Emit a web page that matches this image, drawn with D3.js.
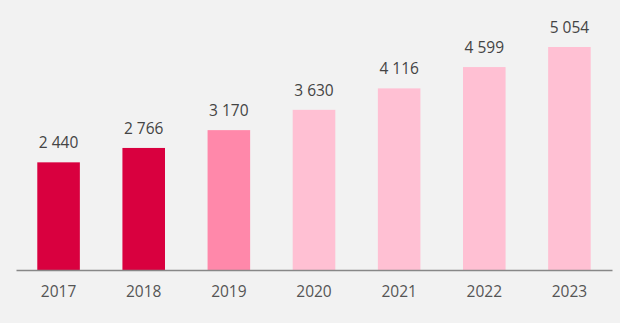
<!DOCTYPE html>
<html><head><meta charset="utf-8">
<script src="https://cdn.jsdelivr.net/npm/d3@7"></script>
<style>html,body{margin:0;padding:0;background:#f2f2f2;}</style>
</head><body>
<svg id="c" width="620" height="323"></svg>
<script>
const years = ["2017","2018","2019","2020","2021","2022","2023"];
const values = [2440, 2766, 3170, 3630, 4116, 4599, 5054];
const labels = ["2 440","2 766","3 170","3 630","4 116","4 599","5 054"];
const colors = ["#d9003f","#d9003f","#ff88aa","#ffc0d3","#ffc0d3","#ffc0d3","#ffc0d3"];

const svg = d3.select("#c");
svg.append("rect").attr("width",620).attr("height",323).attr("fill","#f2f2f2");
const x = d3.scaleBand().domain(years).range([16,612]).paddingInner(0.5).paddingOuter(0.25);
const y = d3.scaleLinear().domain([0,5054]).range([270,47]);

svg.selectAll("rect.bar").data(years).enter().append("rect").attr("class","bar")
  .attr("x",d=>x(d)).attr("width",x.bandwidth())
  .attr("y",(d,i)=>y(values[i])).attr("height",(d,i)=>270-y(values[i]))
  .attr("fill",(d,i)=>colors[i]);

svg.selectAll("text.val").data(years).enter().append("text").attr("class","val")
  .attr("x",d=>x(d)+x.bandwidth()/2).attr("y",(d,i)=>y(values[i])-14)
  .attr("text-anchor","middle").attr("font-family","Open Sans").attr("font-size",15.5)
  .attr("fill","#444").text((d,i)=>labels[i]);

const ax = svg.append("g").attr("transform","translate(0,270)")
  .call(d3.axisBottom(x).tickSize(0).tickPadding(16));
ax.select(".domain").attr("stroke","#888").attr("stroke-width",1.5);
ax.selectAll("text").attr("font-family","Open Sans").attr("font-size",15.5).attr("fill","#555");
</script>
</body></html>
